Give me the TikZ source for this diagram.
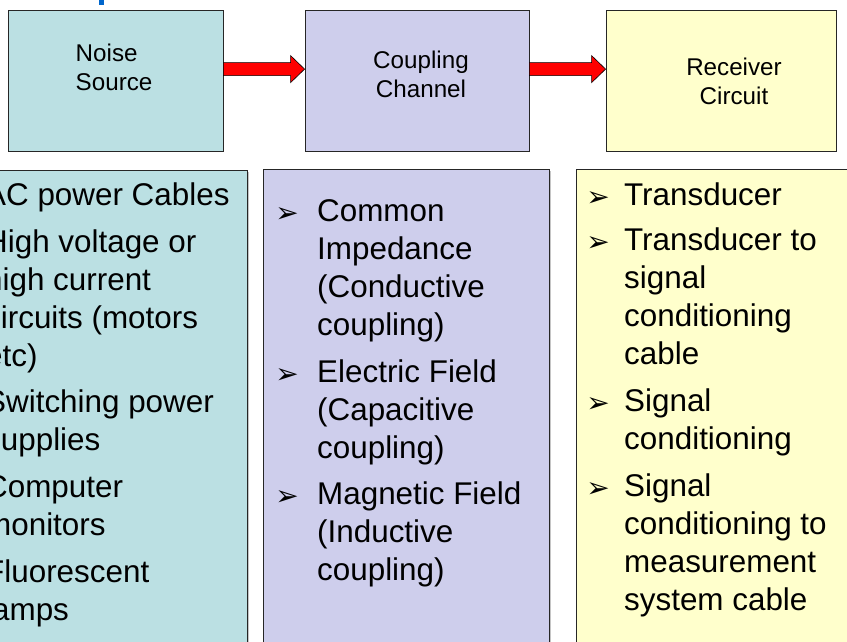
\documentclass[tikz,border=0pt]{standalone}
\usepackage{fontspec}
\setmainfont{Liberation Sans}
\newfontfamily\bulletfont{DejaVu Sans}
\usetikzlibrary{calc,positioning,shadows}
\definecolor{NoiseBlue}{RGB}{187,224,227}
\definecolor{ChannelLilac}{RGB}{206,206,236}
\definecolor{ReceiverYellow}{RGB}{255,255,204}
\definecolor{TitleBlue}{RGB}{0,102,204}

% red block arrow between two points at the height of the first one
\newcommand{\blockarrow}[2]{%
  \draw[fill=red, draw=black, line width=0.6pt] let \p1=(#1), \p2=(#2) in
    (\x1,\y1+6.5pt) -- (\x2-14pt,\y1+6.5pt) -- (\x2-14pt,\y1+13.5pt) -- (\x2,\y1)
    -- (\x2-14pt,\y1-13.5pt) -- (\x2-14pt,\y1-6.5pt) -- (\x1,\y1-6.5pt) -- cycle;}

\begin{document}
\begin{tikzpicture}[x=1pt, y=-1pt,
	box/.style={draw=black!85, line width=0.8pt, drop shadow={shadow xshift=1.2pt, shadow yshift=-1.2pt, fill=black!45}},
	toplbl/.style={inner sep=0pt, font=\fontsize{24.2}{29}\selectfont},
	itm/.style={inner sep=0pt, anchor=north west, align=left, font=\fontsize{31.4}{38}\selectfont},
	bul/.style={inner sep=0pt, anchor=center, font=\bulletfont\fontsize{28}{28}\selectfont}]
	\useasboundingbox (0,0) rectangle (847,641);
	\clip (0,0) rectangle (847,641);
	
	% Reste des Titels
	\fill[TitleBlue] (99,0) rectangle (104,4.5);
	
	% obere Kette
	\node[box, fill=NoiseBlue, minimum width=215pt, minimum height=141pt] (noise) at (115.5,80.5) {};
	\node[box, fill=ChannelLilac, minimum width=224pt, minimum height=141pt] (coupling) at (417,80.5) {};
	\node[box, fill=ReceiverYellow, minimum width=230pt, minimum height=141pt] (receiver) at (721,80.5) {};
	
	\node[toplbl, anchor=north west, align=left] (noiselbl) at (75.5,43.5) {Noise\\Source};
	\node[toplbl, anchor=north, align=center] (couplinglbl) at (421,50.7) {Coupling\\Channel};
	\node[toplbl, anchor=north, align=center] (receiverlbl) at (734,57.7) {Receiver\\Circuit};
	
	\coordinate (a1) at ($(noise.north east)+(0,59.5)$);
	\coordinate (b1) at ($(coupling.north west)+(0,59.5)$);
	\coordinate (a2) at ($(coupling.north east)+(0,59.5)$);
	\coordinate (b2) at ($(receiver.north west)+(0,59.5)$);
	\blockarrow{a1}{b1}
	\blockarrow{a2}{b2}
	
	% untere Listen
	\node[box, fill=NoiseBlue, minimum width=280pt, minimum height=500pt, anchor=north east] (sources) at (248,170) {};
	\node[box, fill=ChannelLilac, minimum width=286pt, minimum height=500pt, anchor=north west] (paths) at (263,169) {};
	\node[box, fill=ReceiverYellow, minimum width=300pt, minimum height=500pt, anchor=north west] (victims) at (576,169) {};
	
	\node[itm] (s1) at (-15,183) {AC power Cables};
	\node[itm] (s2) at (-15,229.5) {High voltage or\\high current\\circuits (motors\\etc)};
	\node[itm] (s3) at (-15,390) {Switching power\\supplies};
	\node[itm] (s4) at (-15,475) {Computer\\monitors};
	\node[itm] (s5) at (-15,560) {Fluorescent\\lamps};
	
	\node[itm] (p1) at (317,199) {Common\\Impedance\\(Conductive\\coupling)};
	\node[itm] (p2) at (317,359.5) {Electric Field\\(Capacitive\\coupling)};
	\node[itm] (p3) at (317,482) {Magnetic Field\\(Inductive\\coupling)};
	\foreach \i in {1,2,3}
		\node[bul] (pb\i) at ($(p\i.north west)+(-30,16.5)$) {➢};
	
	\node[itm] (r1) at (624,182.5) {Transducer};
	\node[itm] (r2) at (624,228) {Transducer to\\signal\\conditioning\\cable};
	\node[itm] (r3) at (624,388.5) {Signal\\conditioning};
	\node[itm] (r4) at (624,474) {Signal\\conditioning to\\measurement\\system cable};
	\foreach \i in {1,2,3,4}
		\node[bul] (rb\i) at ($(r\i.north west)+(-26,16.5)$) {➢};
\end{tikzpicture}
\end{document}
